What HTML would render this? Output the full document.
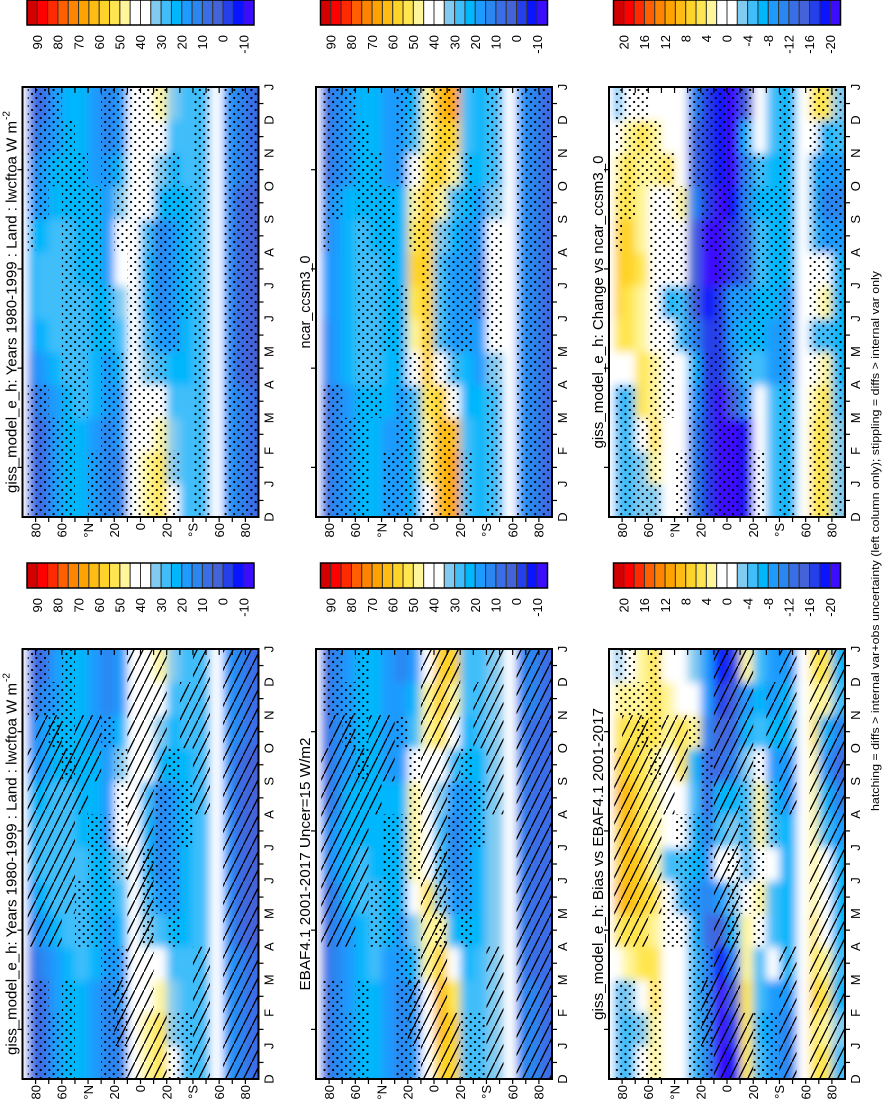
<!DOCTYPE html>
<html><head><meta charset="utf-8">
<style>
html,body{margin:0;padding:0;background:#fff;}
svg{display:block;font-family:"Liberation Sans",Arial,sans-serif;}
</style></head>
<body>
<svg id="fig" width="895" height="1100" viewBox="0 0 895 1100" xmlns="http://www.w3.org/2000/svg">
<defs>
<filter id="soft" x="-5%" y="-5%" width="110%" height="110%"><feGaussianBlur stdDeviation="4.5"/></filter>
<pattern id="stip" patternUnits="userSpaceOnUse" width="8.6" height="8"><circle cx="2" cy="2" r="1.1" fill="#000"/><circle cx="6.3" cy="6" r="1.1" fill="#000"/></pattern>
<pattern id="hatch" patternUnits="userSpaceOnUse" width="9" height="18"><line x1="0" y1="18" x2="9" y2="0" stroke="#000" stroke-width="1.3"/></pattern>
</defs>
</svg>
<script>
// ---- data ----
const latEdges = [90,86,80,70,60,50,40,30,20,10,0,-10,-20,-30,-40,-53,-63,-70,-80,-90];
const monthLabels = ["D","J","F","M","A","M","J","J","A","S","O","N","D","J"];
const latTickLabels = ["80","60","\u00B0N","20","0","20","\u00B0S","60","80"];
const latTickValues = [80,60,40,20,0,-20,-40,-60,-80];
const absBarLabels = ["90","80","70","60","50","40","30","20","10","0","-10"];
const diffBarLabels = ["20","16","12","8","4","0","-4","-8","-12","-16","-20"];
const palette = ["#d40000","#ff0000","#ff2a00","#ff5f00","#ff8400","#ffa300","#ffbd14","#ffd328","#ffe650","#fff59a","#ffffff","#ffffff","#82cbf0","#40befa","#00b6fc","#1e9bff","#2a86f0","#3a6ee6","#4563d8","#2540ea","#0a14ff","#3c0cff"];
const N = null;
const modelField = [
[N,N,N,N,N,N,N,N,N,N,N,N,N],
[7,7,7,9,13,18,22,24,22,17,13,9,7],
[9,9,10,13,18,23,26,26,24,20,16,12,10],
[17,17,18,20,23,26,28,28,26,23,21,19,18],
[22,22,22,23,26,28,28,28,27,25,23,22,22],
[22,22,23,27,28,28,27,24,22,22,22,22,22],
[18,18,19,21,22,22,22,21,21,21,20,19,18],
[13,13,14,17,20,21,21,20,19,19,17,15,14],
[15,15,16,20,23,28,32,36,38,32,24,19,17],
[40,40,40,42,45,40,38,38,40,38,38,38,40],
[46,47,45,40,34,28,25,24,27,36,40,42,45],
[52,54,50,38,27,18,14,13,15,22,33,45,50],
[36,34,31,27,23,19,17,16,17,21,25,30,34],
[28,28,28,27,25,23,22,22,22,24,26,27,28],
[27,27,27,27,28,29,30,30,29,28,27,27,27],
[N,N,N,N,N,N,N,N,N,N,N,N,N],
[18,18,18,18,17,16,16,16,16,17,18,18,18],
[13,13,13,12,10,9,8,8,9,10,12,13,13],
[9,9,8,7,5,4,3,3,3,5,7,8,9]];
const ncarField = [
[N,N,N,N,N,N,N,N,N,N,N,N,N],
[9,9,9,10,12,14,16,16,14,12,10,9,9],
[12,12,12,14,16,18,20,20,18,16,14,13,12],
[18,18,18,19,21,23,24,24,23,21,19,18,18],
[21,21,22,23,26,28,28,27,26,24,22,21,21],
[22,22,22,24,27,29,28,26,24,23,22,22,22],
[19,19,20,21,22,23,23,22,21,21,20,20,19],
[17,17,17,19,21,23,24,23,22,21,19,18,17],
[22,22,23,28,40,50,55,56,54,48,36,27,23],
[45,46,48,52,56,58,58,58,58,58,55,50,46],
[62,63,62,56,42,30,26,26,32,48,57,60,62],
[68,68,64,45,30,20,17,17,21,30,48,60,66],
[30,29,27,25,22,20,19,19,20,22,25,28,30],
[22,22,22,21,19,16,15,15,16,19,21,22,22],
[29,29,29,30,33,37,38,38,36,32,30,29,29],
[N,N,N,N,N,N,N,N,N,N,N,N,N],
[19,19,19,18,18,18,18,18,18,18,19,19,19],
[13,13,13,12,12,11,11,11,11,12,12,13,13],
[8,8,8,7,7,7,7,7,7,7,8,8,8]];
const ebafField = [
[N,N,N,N,N,N,N,N,N,N,N,N,N],
[8,8,8,8,9,10,11,11,10,9,8,8,8],
[11,11,11,12,14,15,16,16,15,13,12,11,11],
[17,17,17,18,20,22,22,22,21,19,18,17,17],
[22,22,22,23,25,27,27,25,23,22,22,22,22],
[22,22,23,26,28,27,25,23,22,22,22,22,22],
[17,17,18,20,22,23,23,22,21,20,19,18,17],
[15,15,15,17,20,22,23,22,21,19,17,16,15],
[17,17,18,24,32,42,48,50,48,40,30,23,19],
[42,43,45,48,50,52,45,40,40,42,47,46,43],
[60,61,62,58,46,35,30,29,33,44,54,58,60],
[58,57,52,36,25,17,14,14,18,26,38,50,56],
[28,28,27,25,21,18,17,17,18,21,24,27,28],
[28,28,27,26,24,22,21,21,22,24,26,27,28],
[31,31,31,31,33,35,34,33,33,32,31,31,31],
[N,N,N,N,N,N,N,N,N,N,N,N,N],
[14,14,14,14,13,13,13,13,13,13,14,14,14],
[11,11,11,10,10,10,10,9,9,10,10,11,11],
[8,8,8,8,8,7,7,7,7,7,8,8,8]];
const changeField = [
[N,N,N,N,N,N,N,N,N,N,N,N,N],
[-5,-5,-5,-6,0,5,7,7,7,6,4,0,-4],
[-5,-5,-5,-4,2,5,6,7,8,6,5,3,0],
[-3,-3,0,5,5,3,3,5,3,3,4,5,0],
[-2,4,5,4,3,0,0,0,0,0,4,3,0],
[0,0,0,0,0,0,-6,0,0,0,5,0,0],
[0,0,0,0,0,-5,-5,0,0,4,0,0,0],
[-10,-10,-10,-8,-6,-10,-14,-14,-14,-10,-12,-12,-10],
[-16,-16,-16,-16,-16,-16,-18,-20,-20,-16,-16,-16,-16],
[-20,-20,-20,-22,-16,-16,-16,-20,-20,-20,-18,-18,-18],
[-22,-22,-22,-14,-10,-8,-8,-16,-16,-18,-20,-20,-20],
[-18,-18,-18,-8,-4,-6,-8,-12,-12,-10,-10,-6,-14],
[0,0,0,0,-4,-6,-6,-4,-4,-6,-4,0,0],
[-4,-4,-4,-4,-8,-8,-6,-6,-6,-6,-6,-4,-4],
[-6,-6,-6,-6,-8,-8,-8,-6,-6,-6,-6,-6,-6],
[N,N,N,N,N,N,N,N,N,N,N,N,N],
[5,5,5,4,0,-4,0,0,-4,-6,-6,0,6],
[6,6,6,5,3,-5,3,2,-8,-10,-8,-6,5],
[-2,-2,-2,-4,-6,-6,-6,-6,-8,-10,-8,-5,-2]];
const biasField = [
[N,N,N,N,N,N,N,N,N,N,N,N,N],
[-5,-5,-4,0,5,9,8,8,9,8,5,3,-3],
[-4,-5,-3,3,6,9,10,9,9,8,5,4,0],
[0,-3,0,5,6,7,7,6,5,5,6,4,3],
[4,4,5,5,3,5,4,3,3,4,6,6,5],
[0,0,0,0,0,0,-4,0,0,0,4,4,0],
[0,0,0,0,0,-4,-4,0,0,6,5,0,0],
[-4,-4,-4,-4,-6,-8,-6,-6,-4,-6,3,2,-3],
[-10,-10,-10,-10,-12,-10,-8,-10,-12,-12,-10,-8,-8],
[-20,-20,-20,-18,-14,-8,0,-4,-6,-12,-14,-16,-18],
[-18,-16,-14,-10,-6,-2,0,-2,-6,-10,-12,-14,-16],
[6,6,6,4,3,0,-4,-6,-4,-2,-6,-8,4],
[-4,-6,-4,-4,0,3,2,4,4,2,-4,-6,-4],
[-8,-8,-8,0,-4,-4,0,-4,-6,-8,-6,-8,-8],
[-10,-10,-8,-6,-6,-6,-6,-6,-8,-8,-6,-6,-8],
[N,N,N,N,N,N,N,N,N,N,N,N,N],
[5,6,8,6,5,4,4,4,3,3,5,4,6],
[6,4,6,3,0,2,0,-4,-6,-8,-6,4,6],
[-4,-2,-6,-4,-6,-6,-6,-8,-10,-12,-10,-4,-6]];
const stippleRow1 = ["0000000000000","1111000011111","1111000001111","1110000000111","1111111111110","0001111111100","1100011111000","1111111000111","1111100011111","1111111111111","1111111111111","1111111111111","1100011111100","0000001111000","1111111111111","0000000000000","1111111111111","1111111111111","1111111111111"];
const hatchRow2 = ["0000000000000","0000111111000","0000111111100","0000111111100","0000011111000","0000000011100","0000000001100","0000000000000","0110000000000","1111111111111","1111111111111","1100000001111","0000000000000","0000000000110","1111000011111","0000000000000","1111111111111","1111111111111","1111111111111"];
const stippleRow2 = ["0000000000000","1110000000011","1110000000011","1100000000110","1110000001111","0000110000000","0000111100000","1111111100100","1111001111000","0000000000000","0000111000000","0000011110000","1100111111000","1100000110000","0000000000000","0000000000000","0000000000000","0000000000000","0000000000000"];

// ---- drawing ----
const NS = "http://www.w3.org/2000/svg";
const svg = document.getElementById("fig");
function mk(tag, attrs, parent){ const e=document.createElementNS(NS,tag); for(const k in attrs) e.setAttribute(k,attrs[k]); (parent||svg).appendChild(e); return e; }
function rtext(parent, x, y, str, anchor, size, len){
  const t = mk("text",{x:x,y:y,"font-size":size,"text-anchor":anchor,transform:"rotate(-90 "+x+" "+y+")",fill:"#000"},parent);
  if(len){ t.setAttribute("textLength",len); t.setAttribute("lengthAdjust","spacingAndGlyphs"); }
  t.textContent = str; return t;
}
const colX = [22.5, 316, 609];
const boxW = 236;
const rowY = [87, 649];
const boxH = 430;
const nM = 13;
function colorAbs(v){ let i=Math.floor((95-v)/5); return palette[Math.max(0,Math.min(21,i))]; }
function colorDiff(v){ let i=Math.floor((22-v)/2); return palette[Math.max(0,Math.min(21,i))]; }

const panels = [
 {name:"model-panel-top", field:modelField, cmap:colorAbs, c:0, r:0, title:"giss_model_e_h: Years 1980-1999 : Land : lwcftoa W m", sup:true, tlen:372, stip:stippleRow1, hatch:null},
 {name:"ncar-panel", field:ncarField, cmap:colorAbs, c:1, r:0, title:"ncar_ccsm3_0", tlen:93, stip:stippleRow1, hatch:null},
 {name:"change-panel", field:changeField, cmap:colorDiff, c:2, r:0, title:"giss_model_e_h: Change vs ncar_ccsm3_0", tlen:293, stip:stippleRow1, hatch:null},
 {name:"model-panel-bottom", field:modelField, cmap:colorAbs, c:0, r:1, title:"giss_model_e_h: Years 1980-1999 : Land : lwcftoa W m", sup:true, tlen:372, stip:stippleRow2, hatch:hatchRow2},
 {name:"ebaf-panel", field:ebafField, cmap:colorAbs, c:1, r:1, title:"EBAF4.1 2001-2017 Uncer=15 W/m2", tlen:253, stip:stippleRow2, hatch:hatchRow2},
 {name:"bias-panel", field:biasField, cmap:colorDiff, c:2, r:1, title:"giss_model_e_h: Bias vs EBAF4.1 2001-2017", tlen:312, stip:stippleRow2, hatch:hatchRow2}
];

panels.forEach(function(p, pi){
  const L = colX[p.c], T = rowY[p.r], B = T+boxH, R = L+boxW;
  const xOf = function(lat){ return L + (90-lat)*boxW/180; };
  const yOf = function(m){ return B - m*boxH/nM; };
  const g = mk("g",{});
  
  
  const cp = mk("clipPath",{id:"clip"+pi},svg);
  mk("rect",{x:L,y:T,width:boxW,height:boxH},cp);
  const cg = mk("g",{"clip-path":"url(#clip"+pi+")"},g);
  mk("rect",{x:L,y:T,width:boxW,height:boxH,fill:"#fff"},cg);
  const fg = mk("g",{filter:"url(#soft)"},cg);
  for(let b=0;b<latEdges.length-1;b++){
    let x0=xOf(latEdges[b]), x1=xOf(latEdges[b+1]);
    if(b===0) x0-=14; if(b===latEdges.length-2) x1+=14;
    for(let m=0;m<nM;m++){
      const v=p.field[b][m];
      let y0=yOf(m+1), y1=yOf(m);
      if(m===0) y1+=14; if(m===nM-1) y0-=14;
      const cell = mk("rect",{x:x0,y:y0,width:x1-x0+0.5,height:y1-y0+0.5,fill:(v===null?"#ffffff":p.cmap(v))},fg);
      
      
    }
  }
  for(let b=0;b<latEdges.length-1;b++){
    const x0=xOf(latEdges[b]), x1=xOf(latEdges[b+1]);
    for(let m=0;m<nM;m++){
      const y0=yOf(m+1), y1=yOf(m);
      if(p.stip && p.stip[b][m]==="1" && p.field[b][m]!==null){
        const s = mk("rect",{x:x0,y:y0,width:x1-x0,height:y1-y0,fill:"url(#stip)"},cg);
        
        
      }
      if(p.hatch && p.hatch[b][m]==="1" && p.field[b][m]!==null){
        const h = mk("rect",{x:x0,y:y0,width:x1-x0,height:y1-y0,fill:"url(#hatch)"},cg);
        
        
      }
    }
  }
  const fr = mk("rect",{x:L,y:T,width:boxW,height:boxH,fill:"none",stroke:"#000","stroke-width":2},g);
  
  
  for(let lat=-80; lat<=80; lat+=10){
    const x=xOf(lat);
    mk("line",{x1:x,y1:B,x2:x,y2:B+5,stroke:"#000","stroke-width":1.2},g);
    mk("line",{x1:x,y1:T,x2:x,y2:T+6,stroke:"#000","stroke-width":1.2},g);
  }
  latTickValues.forEach(function(lat,i){
    const t = rtext(g, xOf(lat)+4.7, B+6, latTickLabels[i], "end", 13);
    
    
  });
  monthLabels.forEach(function(lab,i){
    const y=yOf(i);
    const t = rtext(g, R+15, y, lab, "middle", 13);
    
    
    if(i<nM){ const ym=yOf(i+0.5); mk("line",{x1:R,y1:ym,x2:R+5,y2:ym,stroke:"#000","stroke-width":1.2},g); }
  });
  [1.5,4.5,7.5,10.5].forEach(function(m){ const y=yOf(m); mk("line",{x1:L,y1:y,x2:L-5,y2:y,stroke:"#000","stroke-width":1.2},g); });
  const tt = rtext(g, L-6, (T+B)/2 + (p.sup?5:0), p.title, "middle", 15, p.tlen);
  
  
  if(p.sup){
    const st = rtext(g, L-13, (T+B)/2 + 5 - p.tlen/2 - 1, "-2", "start", 10);
    
    
  }
  const cbx = L + 4.5, cby = (p.r===0?0:563), cw = 227/22;
  const cb = mk("g",{},svg);
  
  
  palette.forEach(function(col,i){
    const sw = mk("rect",{x:cbx+i*cw,y:cby,width:cw,height:25,fill:col,stroke:"#333","stroke-width":1},cb);
    
    
  });
  mk("rect",{x:cbx,y:cby,width:cw*22,height:25,fill:"none",stroke:"#000","stroke-width":1.5},cb);
  const labs = (p.cmap===colorAbs)?absBarLabels:diffBarLabels;
  labs.forEach(function(s,i){
    const t = rtext(cb, cbx+(1+2*i)*cw+4.7, cby+35, s, "end", 13);
    
    
  });
});
const foot = rtext(svg, 879, 541, "hatching = diffs > internal var+obs uncertainty (left column only); stippling = diffs > internal var only", "middle", 11, 540);


</script>
</body></html>
